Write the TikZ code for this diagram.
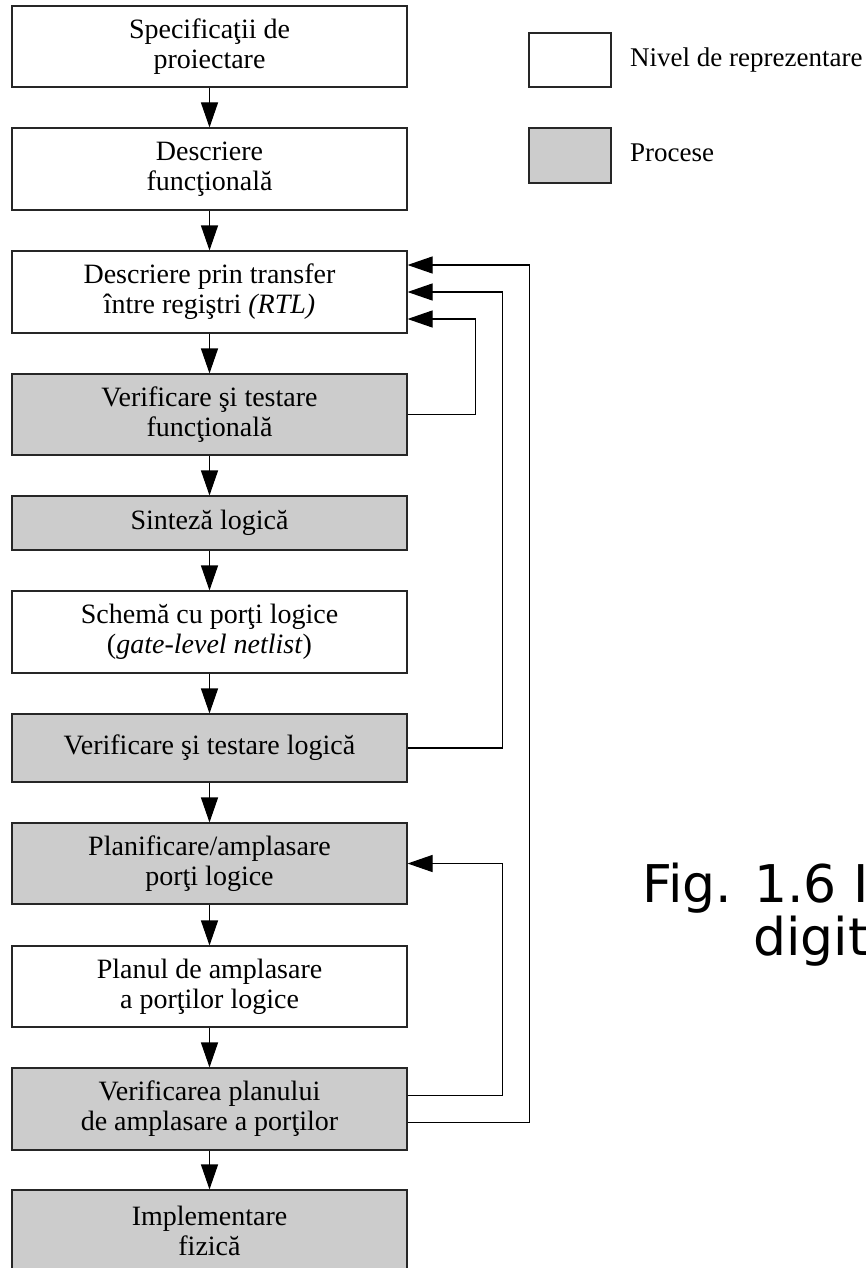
\documentclass[tikz,border=0pt]{standalone}
\usepackage{fontspec}
\setmainfont{Liberation Serif}
\newfontfamily\capfont{DejaVu Sans}
\usetikzlibrary{arrows.meta}
\definecolor{procfill}{HTML}{CCCCCC}
\definecolor{edgecol}{HTML}{262626}
\begin{document}
\begin{tikzpicture}[x=1pt,y=-1pt,
  box/.style={draw=edgecol, line width=1.1pt, minimum width=395pt, inner sep=0pt,
              align=center, font=\fontsize{28}{30}\selectfont},
  level/.style={box, fill=white},
  proc/.style={box, fill=procfill},
  legendbox/.style={draw=edgecol, line width=1.1pt, minimum width=82pt, inner sep=0pt},
  legendtext/.style={anchor=base west, inner sep=0pt, font=\fontsize{27}{29}\selectfont},
  flow/.style={draw=black, line width=1.1pt, -{Triangle[length=25pt,width=17pt]}},
  captext/.style={anchor=base west, inner sep=0pt, font=\capfont\fontsize{52}{53}\selectfont}
]
\useasboundingbox (0,0) rectangle (865,1268);
\clip (0,0) rectangle (865,1268);

% design flow, top to bottom
\node[level, minimum height=81pt] (b1) at (209.5,46.5) {Specificaţii de\\proiectare};
\node[level, minimum height=82pt] (b2) at (209.5,169) {Descriere\\funcţională};
\node[level, minimum height=82pt] (b3) at (209.5,292) {Descriere prin transfer\\între regiştri \textit{(RTL)}};
\node[proc,  minimum height=81pt] (b4) at (209.5,414.5) {Verificare şi testare\\funcţională};
\node[proc,  minimum height=54pt] (b5) at (209.5,523) {Sinteză logică};
\node[level, minimum height=82pt] (b6) at (209.5,632) {Schemă cu porţi logice\\(\textit{gate-level netlist})};
\node[proc,  minimum height=68pt] (b7) at (209.5,748) {Verificare şi testare logică};
\node[proc,  minimum height=81pt] (b8) at (209.5,863.5) {Planificare/amplasare\\porţi logice};
\node[level, minimum height=81pt] (b9) at (209.5,986.5) {Planul de amplasare\\a porţilor logice};
\node[proc,  minimum height=82pt] (b10) at (209.5,1109) {Verificarea planului\\de amplasare a porţilor};
\node[proc,  minimum height=82pt] (b11) at (209.5,1231) {Implementare\\fizică};

% forward steps
\foreach \a/\b in {b1/b2,b2/b3,b3/b4,b4/b5,b5/b6,b6/b7,b7/b8,b8/b9,b9/b10,b10/b11}
  \draw[flow] (\a.south) -- (\b.north);

% feedback loops
\draw[flow] (b4.east) -- ++(68,0) |- ([yshift=-27pt]b3.east);
\draw[flow] (b7.east) -- ++(95,0) |- (b3.east);
\draw[flow] ([yshift=13.5pt]b10.east) -- ++(95,0) |- (b8.east);
\draw[flow] ([yshift=-13.5pt]b10.east) -- ++(122,0) |- ([yshift=27pt]b3.east);

% legend
\node[legendbox, fill=white, minimum height=54pt] (lg1) at (570,60) {};
\node[legendbox, fill=procfill, minimum height=55pt] (lg2) at (570,155.5) {};
\node[legendtext] (lt1) at (630,67) {Nivel de reprezentare};
\node[legendtext] (lt2) at (630,162) {Procese};

% caption
\node[captext] (cap1) at (642,902) {Fig. 1.6 I};
\node[captext] (cap2) at (753,955) {digit};
\end{tikzpicture}
\end{document}
